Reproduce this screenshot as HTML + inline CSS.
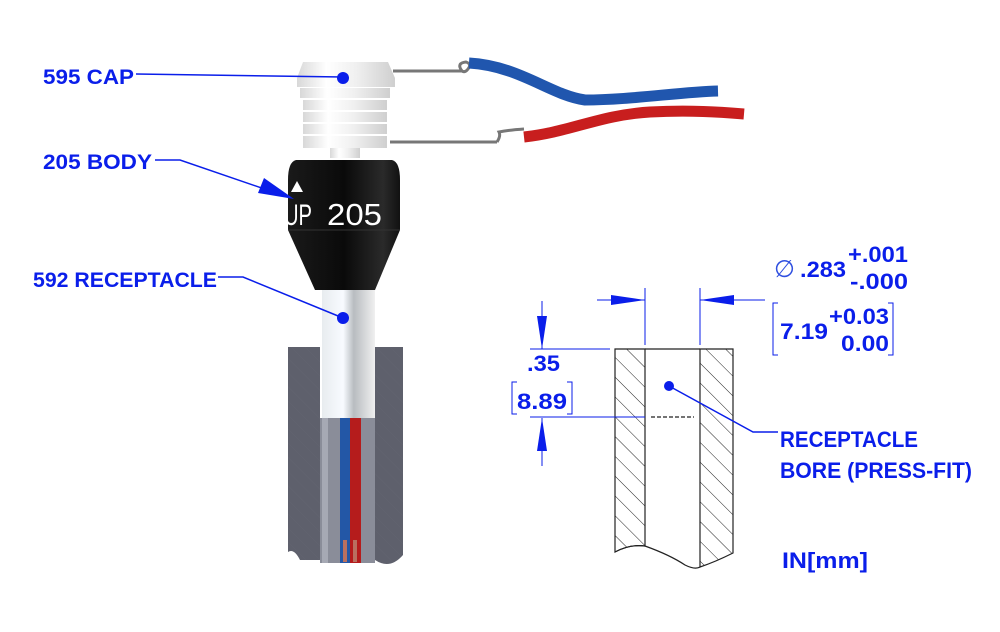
<!DOCTYPE html>
<html><head><meta charset="utf-8"><style>
html,body{margin:0;padding:0;background:#fff;}
svg{display:block;}
text{font-family:"Liberation Sans",sans-serif;font-weight:bold;fill:#0a1eea;}
</style></head><body>
<svg width="1000" height="632" viewBox="0 0 1000 632" xmlns="http://www.w3.org/2000/svg">
<defs>
<linearGradient id="cap" x1="0" x2="1"><stop offset="0" stop-color="#d8d8d8"/><stop offset="0.3" stop-color="#ffffff"/><stop offset="0.6" stop-color="#f0f0f0"/><stop offset="1" stop-color="#cfcfcf"/></linearGradient>
<linearGradient id="blk" x1="0" x2="1"><stop offset="0" stop-color="#1a1a1a"/><stop offset="0.5" stop-color="#0a0a0a"/><stop offset="0.85" stop-color="#2a2a2a"/><stop offset="1" stop-color="#111"/></linearGradient>
<linearGradient id="rec" x1="0" x2="1"><stop offset="0" stop-color="#e8ecef"/><stop offset="0.4" stop-color="#f8fbff"/><stop offset="0.6" stop-color="#b8bcc0"/><stop offset="1" stop-color="#f0f0f0"/></linearGradient>
<pattern id="hatch" width="14" height="14" patternUnits="userSpaceOnUse" patternTransform="rotate(-45)"><line x1="0" y1="0" x2="0" y2="14" stroke="#222" stroke-width="1"/></pattern>
<pattern id="dh" width="10" height="10" patternUnits="userSpaceOnUse" patternTransform="rotate(-45)"><line x1="0" y1="0" x2="0" y2="10" stroke="#666874" stroke-width="1"/></pattern>
</defs>

<!-- wires -->
<line x1="393" y1="71" x2="462" y2="71" stroke="#777" stroke-width="3"/>
<path d="M462 71 q-6 -8 4 -9 q6 2 2 7 q-3 4 -6 2" fill="none" stroke="#777" stroke-width="3"/>
<path d="M469 63 C520 66 550 95 585 100 C630 100 680 92 718 91" fill="none" stroke="#2056ae" stroke-width="11"/>
<line x1="390" y1="142" x2="497" y2="142" stroke="#777" stroke-width="3"/>
<path d="M497 142 q4 -6 2 -10 q10 -2 25 -3" fill="none" stroke="#777" stroke-width="3"/>
<path d="M524 137 C570 132 600 115 650 112 C690 110 720 112 744 114" fill="none" stroke="#c81e1e" stroke-width="11"/>

<!-- cap -->
<path d="M303 62 L388 62 L395 78 L395 87 L297 87 L297 78 Z" fill="url(#cap)"/>
<g fill="url(#cap)">
<rect x="300" y="88" width="90" height="10"/>
<rect x="303" y="100" width="84" height="10"/>
<rect x="303" y="112" width="84" height="10"/>
<rect x="303" y="124" width="84" height="10"/>
<rect x="303" y="136" width="84" height="12"/>
<rect x="330" y="148" width="30" height="10"/>
</g>
<!-- body -->
<path d="M296 160 Q288 162 288 180 L288 230 L315 290 L375 290 L400 230 L400 180 Q400 162 392 160 Z" fill="url(#blk)"/>
<path d="M288 230 L400 230" stroke="#333" stroke-width="1"/>
<polygon points="297,181 291,192 303,192" fill="#fff"/>
<text x="284" y="225" style="font-weight:normal;fill:#fff;font-size:30px" textLength="28" lengthAdjust="spacingAndGlyphs">UP</text>
<text x="327" y="225" style="font-weight:normal;fill:#fff;font-size:31px" textLength="55" lengthAdjust="spacingAndGlyphs">205</text>

<!-- block -->
<path d="M288 347 L320 347 L320 560 L300 560 Q294 548 288 552 Z" fill="#5e606c"/>
<path d="M375 347 L403 347 L403 555 Q390 570 375 560 Z" fill="#5e606c"/>
<path d="M288 347 L320 347 L320 560 L300 560 Q294 548 288 552 Z" fill="url(#dh)" opacity="0.4"/>
<path d="M375 347 L403 347 L403 555 Q390 570 375 560 Z" fill="url(#dh)" opacity="0.4"/>
<rect x="320" y="418" width="55" height="145" fill="#8a8d99"/>
<rect x="322" y="418" width="6" height="145" fill="#a6a9b4"/>
<!-- receptacle -->
<rect x="322" y="290" width="53" height="128" fill="url(#rec)"/>
<rect x="340" y="418" width="10" height="145" fill="#2357a6"/>
<rect x="350" y="418" width="11" height="145" fill="#b51c1c"/>
<rect x="343" y="540" width="4" height="22" fill="#b97060"/>
<rect x="353" y="540" width="4" height="22" fill="#b97060"/>

<!-- left callouts -->
<g style="font-size:21px">
<text x="43" y="84" textLength="91" lengthAdjust="spacingAndGlyphs">595 CAP</text>
<text x="43" y="169" textLength="109" lengthAdjust="spacingAndGlyphs">205 BODY</text>
<text x="33" y="287" textLength="184" lengthAdjust="spacingAndGlyphs">592 RECEPTACLE</text>
</g>
<polyline points="136,74 343,77" fill="none" stroke="#0a1eea" stroke-width="1.5"/>
<circle cx="343" cy="78" r="6" fill="#0a1eea"/>
<polyline points="155,160 180,160 282,195" fill="none" stroke="#0a1eea" stroke-width="1.5"/>
<polygon points="294,199 258,193 264,178" fill="#0a1eea"/>
<polyline points="218,277 243,277 343,318" fill="none" stroke="#0a1eea" stroke-width="1.5"/>
<circle cx="343" cy="318" r="6" fill="#0a1eea"/>

<!-- section drawing -->
<path d="M615 349 L645 349 L645 546 Q630 544 615 552 Z" fill="url(#hatch)" stroke="#222" stroke-width="1.2"/>
<path d="M700 349 L733 349 L733 553 Q715 562 700 567 Z" fill="url(#hatch)" stroke="#222" stroke-width="1.2"/>
<path d="M615 552 Q630 544 645 546 Q670 555 685 565 Q695 570 700 567" fill="none" stroke="#222" stroke-width="1.2"/>
<line x1="645" y1="349" x2="700" y2="349" stroke="#222" stroke-width="1.2"/>
<line x1="651" y1="417" x2="694" y2="417" stroke="#222" stroke-width="1.2" stroke-dasharray="4,2"/>

<g stroke="#0a1eea" stroke-width="1" fill="none">
<line x1="645" y1="288" x2="645" y2="345"/>
<line x1="700" y1="288" x2="700" y2="345"/>
<line x1="597" y1="300" x2="645" y2="300"/>
<line x1="700" y1="300" x2="765" y2="300"/>
<line x1="542" y1="301" x2="542" y2="349"/>
<line x1="542" y1="418" x2="542" y2="466"/>
<line x1="530" y1="349" x2="610" y2="349"/>
<line x1="530" y1="417" x2="645" y2="417"/>
<polyline points="517,382 512,382 512,414 517,414"/>
<polyline points="567,382 572,382 572,414 567,414"/>
<polyline points="778,303 773,303 773,355 778,355"/>
<polyline points="888,303 893,303 893,355 888,355"/>
</g>
<g fill="#0a1eea">
<polygon points="645,300 611,295 611,305"/>
<polygon points="700,300 734,295 734,305"/>
<polygon points="542,349 537,316 547,316"/>
<polygon points="542,418 537,451 547,451"/>
</g>
<circle cx="669" cy="386" r="5" fill="#0a1eea"/>
<polyline points="669,386 753,432 778,432" fill="none" stroke="#0a1eea" stroke-width="1.5"/>

<g style="font-size:22px">
<text x="527" y="371" textLength="33" lengthAdjust="spacingAndGlyphs">.35</text>
<text x="517" y="409" textLength="50" lengthAdjust="spacingAndGlyphs">8.89</text>
<text x="780" y="447" textLength="138" lengthAdjust="spacingAndGlyphs">RECEPTACLE</text>
<text x="780" y="478" textLength="192" lengthAdjust="spacingAndGlyphs">BORE (PRESS-FIT)</text>
<text x="782" y="568" textLength="86" lengthAdjust="spacingAndGlyphs">IN[mm]</text>
<text x="800" y="277" textLength="46" lengthAdjust="spacingAndGlyphs">.283</text>
<text x="848" y="262" textLength="60" lengthAdjust="spacingAndGlyphs">+.001</text>
<text x="850" y="289" textLength="58" lengthAdjust="spacingAndGlyphs">-.000</text>
<text x="780" y="339" textLength="48" lengthAdjust="spacingAndGlyphs">7.19</text>
<text x="829" y="324" textLength="60" lengthAdjust="spacingAndGlyphs">+0.03</text>
<text x="841" y="351" textLength="48" lengthAdjust="spacingAndGlyphs">0.00</text>
</g>
<text x="774" y="277" font-size="24" style="font-weight:normal;fill:#3050e0">∅</text>
</svg>
</body></html>
